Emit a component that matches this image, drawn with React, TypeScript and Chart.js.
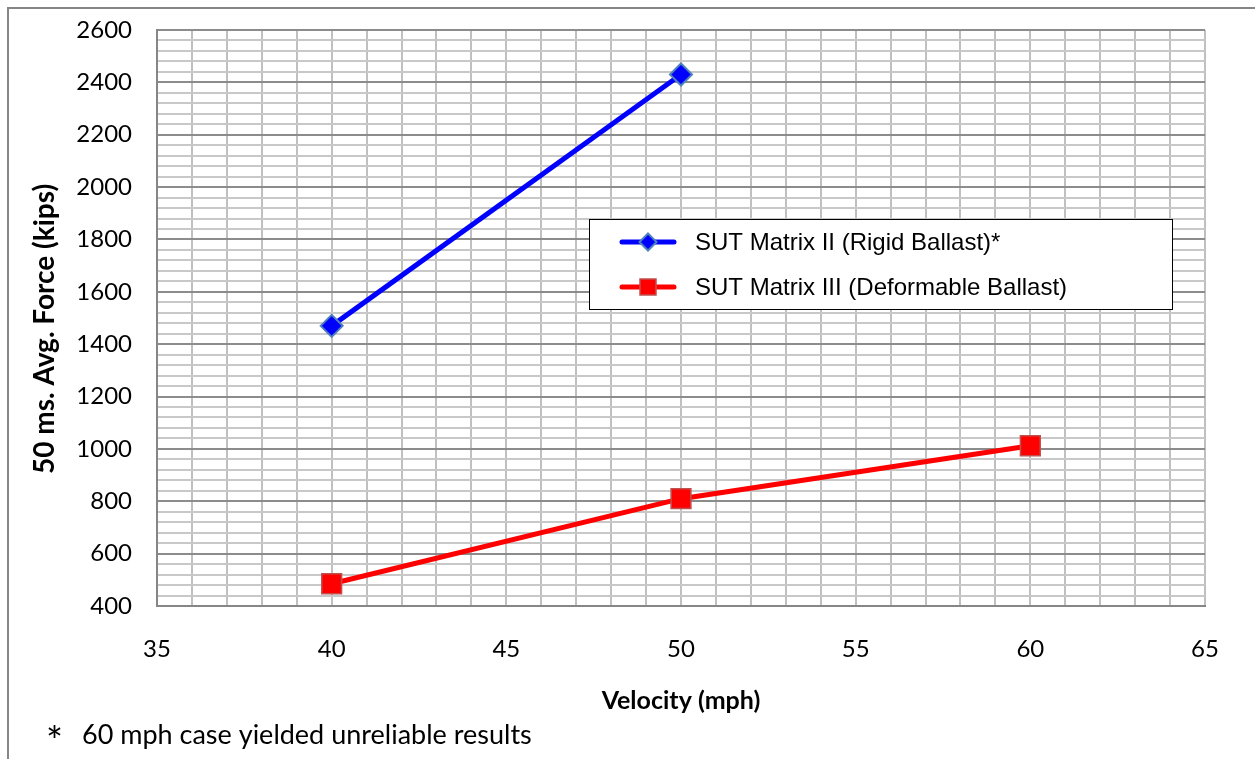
import { useEffect, useRef } from 'react';
import { Chart, registerables } from 'chart.js';

Chart.register(...registerables);

// ---- data ----
const rigidVelocities = [40, 50];
const rigidForce = [1470, 2430];
const deformableVelocities = [40, 50, 60];
const deformableForce = [485, 810, 1012];
const seriesNames = ['SUT Matrix II (Rigid Ballast)*', 'SUT Matrix III (Deformable Ballast)'];
const xRange = [35, 65];
const yRange = [400, 2600];
const xLabelEvery = 5;
const yLabelEvery = 200;
const xTitle = 'Velocity (mph)';
const yTitle = '50 ms. Avg. Force (kips)';
const footnoteMark = '*';
const footnoteText = '60 mph case yielded unreliable results';

const TICK_FONT = 'Lato';
const LEGEND_FONT = '"Liberation Sans", Arial, sans-serif';

const decorPlugin = {
  id: 'decor',
  afterDraw(chart: any) {
    const ctx: CanvasRenderingContext2D = chart.ctx;
    const area = chart.chartArea;
    ctx.save();
    // outer frame (top & left visible)
    ctx.fillStyle = '#868686';
    ctx.fillRect(7, 7, 1248, 2);
    ctx.fillRect(7, 7, 2, 752);

    // axis titles
    ctx.fillStyle = '#000';
    ctx.textAlign = 'center';
    ctx.textBaseline = 'middle';
    ctx.font = `bold 25px ${TICK_FONT}`;
    ctx.fillText(xTitle, (area.left + area.right) / 2, 701);
    ctx.save();
    ctx.font = `bold 28px ${TICK_FONT}`;
    ctx.translate(45, 329);
    ctx.rotate(-Math.PI / 2);
    ctx.fillText(yTitle, 0, 0);
    ctx.restore();

    // footnote
    ctx.textAlign = 'left';
    ctx.textBaseline = 'alphabetic';
    ctx.font = `40px ${TICK_FONT}`;
    ctx.fillText(footnoteMark, 46, 756);
    ctx.font = `27px ${TICK_FONT}`;
    ctx.fillText(footnoteText, 82, 744);

    // legend
    const lx = 589.5, ly = 219.5, lw = 583, lh = 90;
    ctx.fillStyle = '#fff';
    ctx.fillRect(lx, ly, lw, lh);
    ctx.strokeStyle = '#000';
    ctx.lineWidth = 1;
    ctx.strokeRect(lx, ly, lw, lh);
    const rows = [242, 287];
    chart.data.datasets.forEach((ds: any, i: number) => {
      const y = rows[i];
      ctx.strokeStyle = ds.borderColor;
      ctx.lineWidth = 5;
      ctx.lineCap = 'round';
      ctx.beginPath();
      ctx.moveTo(622, y);
      ctx.lineTo(674, y);
      ctx.stroke();
      const mx = 648;
      ctx.fillStyle = ds.pointBackgroundColor;
      ctx.strokeStyle = ds.pointBorderColor;
      ctx.lineWidth = ds.pointBorderWidth;
      ctx.beginPath();
      if (ds.pointStyle === 'rectRot') {
        const r = 8.5;
        ctx.moveTo(mx, y - r);
        ctx.lineTo(mx + r, y);
        ctx.lineTo(mx, y + r);
        ctx.lineTo(mx - r, y);
        ctx.closePath();
      } else {
        const s = 8;
        ctx.rect(mx - s, y - s, 2 * s, 2 * s);
      }
      ctx.fill();
      ctx.stroke();
      ctx.fillStyle = '#000';
      ctx.font = `24px ${LEGEND_FONT}`;
      ctx.textAlign = 'left';
      ctx.textBaseline = 'middle';
      ctx.fillText(ds.label, 695, y + 1);
    });
    ctx.restore();
  },
};

export default function App() {
  const ref = useRef<HTMLCanvasElement>(null);
  useEffect(() => {
    if (!ref.current) return;
    const chart = new Chart(ref.current, {
      type: 'scatter',
      data: {
        datasets: [
          {
            label: seriesNames[0],
            data: rigidVelocities.map((x, i) => ({ x, y: rigidForce[i] })),
            showLine: true,
            borderColor: '#0000ff',
            backgroundColor: '#0000ff',
            borderWidth: 5,
            pointStyle: 'rectRot',
            pointRadius: 11,
            pointBackgroundColor: '#0000ff',
            pointBorderColor: '#4f81bd',
            pointBorderWidth: 2,
            tension: 0,
          },
          {
            label: seriesNames[1],
            data: deformableVelocities.map((x, i) => ({ x, y: deformableForce[i] })),
            showLine: true,
            borderColor: '#ff0000',
            backgroundColor: '#ff0000',
            borderWidth: 5,
            pointStyle: 'rect',
            pointRadius: 14,
            pointBackgroundColor: '#ff0000',
            pointBorderColor: '#c0504d',
            pointBorderWidth: 1.5,
            tension: 0,
          },
        ],
      } as any,
      options: {
        responsive: false,
        animation: false,
        events: [],
        layout: { padding: { left: 0, top: 30, right: 50, bottom: 0 } },
        plugins: { legend: { display: false }, tooltip: { enabled: false }, title: { display: false } },
        scales: {
          x: {
            type: 'linear',
            min: xRange[0],
            max: xRange[1],
            afterFit: (s: any) => { s.height = 153; s.paddingLeft = 0; s.paddingRight = 0; },
            ticks: {
              stepSize: 1,
              autoSkip: false,
              maxRotation: 0,
              padding: 29,
              color: '#000',
              font: { family: TICK_FONT, size: 24 },
              callback: (v: any) => (Number(v) % xLabelEvery === 0 ? String(v) : ''),
            },
            grid: { color: '#c0c0c0', lineWidth: 2, drawTicks: false },
            border: { display: true, color: '#868686', width: 2 },
          },
          y: {
            type: 'linear',
            min: yRange[0],
            max: yRange[1],
            afterFit: (s: any) => { s.width = 157; s.paddingTop = 0; s.paddingBottom = 0; },
            ticks: {
              stepSize: 40,
              autoSkip: false,
              padding: 25,
              color: '#000',
              font: { family: TICK_FONT, size: 24 },
              callback: (v: any) => (Number(v) % yLabelEvery === 0 ? String(v) : ''),
            },
            grid: {
              color: (c: any) => (c.tick && c.tick.value % yLabelEvery === 0 ? '#8c8c8c' : '#c8c8c8'),
              lineWidth: 2,
              drawTicks: false,
            },
            border: { display: true, color: '#868686', width: 2 },
          },
        },
      } as any,
      plugins: [decorPlugin],
    });
    return () => chart.destroy();
  }, []);
  return (
    <div style={{ position: 'fixed', left: 0, top: 0, width: 1255, height: 759, background: '#fff' }}>
      <canvas ref={ref} width={1255} height={759} style={{ display: 'block' }} />
    </div>
  );
}
